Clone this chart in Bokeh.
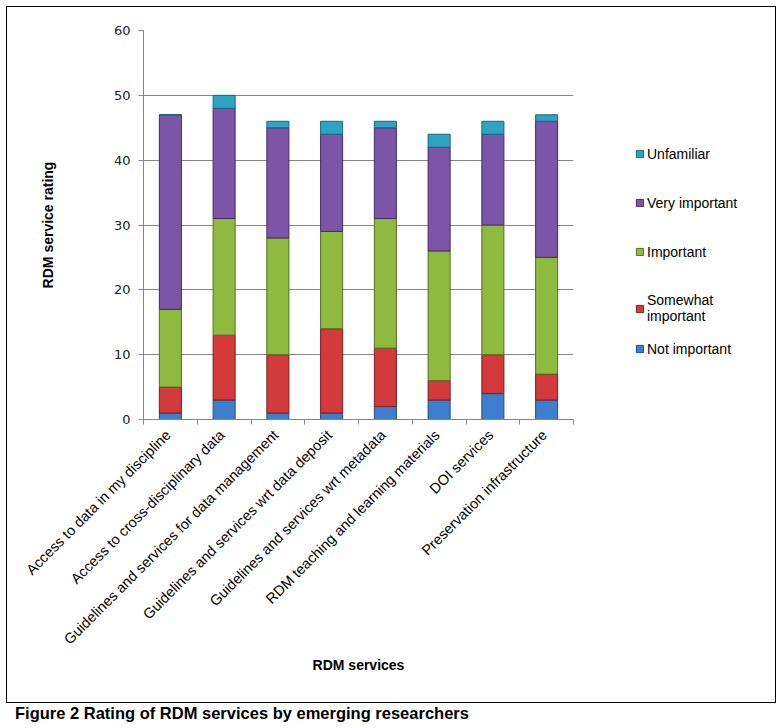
import numpy as np
from bokeh.plotting import figure
from bokeh.models import (ColumnDataSource, Legend, LegendItem, FixedTicker, Div)
from bokeh.layouts import column, row
from bokeh.embed import file_html
from bokeh.resources import INLINE

services = [
    "Access to data in my discipline",
    "Access to cross-disciplinary data",
    "Guidelines and services for data management",
    "Guidelines and services wrt data deposit",
    "Guidelines and services wrt metadata",
    "RDM teaching and learning materials",
    "DOI services",
    "Preservation infrastructure",
]
not_important = [1, 3, 1, 1, 2, 3, 4, 3]
somewhat_important = [4, 10, 9, 13, 9, 3, 6, 4]
important = [12, 18, 18, 15, 20, 20, 20, 18]
very_important = [30, 17, 17, 15, 14, 16, 14, 21]
unfamiliar = [0, 2, 1, 2, 1, 2, 2, 1]

series_keys = ["not_important", "somewhat_important", "important", "very_important", "unfamiliar"]
series_labels = ["Not important", "Somewhat\nimportant", "Important", "Very important", "Unfamiliar"]
colors = ["#3D7FCC", "#D23A3C", "#8DBA3F", "#7C55A8", "#2EA3C2"]
edges = ["#1F4E86", "#7E1E20", "#52701F", "#452C66", "#17697F"]
y_ticks = [0, 10, 20, 30, 40, 50, 60]

xpos = list(np.arange(len(services)) + 0.5)
source = ColumnDataSource(dict(
    x=xpos,
    not_important=not_important,
    somewhat_important=somewhat_important,
    important=important,
    very_important=very_important,
    unfamiliar=unfamiliar,
))

p = figure(width=580, height=695, output_backend="svg", toolbar_location=None,
           x_range=(0, len(services)), y_range=(0, 60),
           min_border_left=136, min_border_right=14, min_border_top=23, min_border_bottom=283)
p.outline_line_color = None

p.vbar_stack(series_keys, x="x", width=0.41, source=source,
             fill_color=colors, line_color=edges, line_width=1)

# axes
p.yaxis.ticker = FixedTicker(ticks=y_ticks)
p.yaxis.minor_tick_line_color = None
p.yaxis.major_tick_out = 5
p.yaxis.major_tick_in = 0
p.yaxis.axis_line_color = "#868686"
p.yaxis.major_tick_line_color = "#868686"
p.yaxis.major_label_text_font = "DejaVu Sans"
p.yaxis.major_label_text_font_size = "13px"
p.yaxis.major_label_text_color = "#222222"
p.yaxis.major_label_standoff = 8
p.yaxis.axis_label = "RDM service rating"
p.yaxis.axis_label_text_font = "Liberation Sans"
p.yaxis.axis_label_text_font_style = "bold"
p.yaxis.axis_label_text_font_size = "14px"
p.yaxis.axis_label_text_color = "#000000"
p.yaxis.axis_label_standoff = 55

label_ticks = [x - 0.04 for x in xpos]
p.xaxis.ticker = FixedTicker(ticks=label_ticks, minor_ticks=list(range(len(services) + 1)))
p.xaxis.major_label_overrides = {float(x): s for x, s in zip(label_ticks, services)}
p.xaxis.major_tick_line_color = None
p.xaxis.minor_tick_line_color = "#868686"
p.xaxis.minor_tick_out = 5
p.xaxis.minor_tick_in = 0
p.xaxis.axis_line_color = "#868686"
p.xaxis.major_label_orientation = np.pi / 4
p.xaxis.major_label_text_font = "Liberation Sans"
p.xaxis.major_label_text_font_size = "14.5px"
p.xaxis.major_label_text_color = "#000000"
p.xaxis.major_label_standoff = 7
p.xaxis.axis_label = "RDM services"
p.xaxis.axis_label_text_font = "Liberation Sans"
p.xaxis.axis_label_text_font_style = "bold"
p.xaxis.axis_label_text_font_size = "14px"
p.xaxis.axis_label_text_color = "#000000"
p.xaxis.axis_label_standoff = 1

p.xgrid.grid_line_color = None
p.ygrid.grid_line_color = "#868686"
p.ygrid.ticker = FixedTicker(ticks=y_ticks)

# legend panel (separate canvas to the right of the chart)
lf = figure(width=188, height=695, output_backend="svg", toolbar_location=None,
            x_axis_type=None, y_axis_type=None, x_range=(0, 1), y_range=(0, 1),
            min_border_left=48, min_border_top=23, min_border_right=0, min_border_bottom=283)
lf.outline_line_color = None
lf.grid.grid_line_color = None
lrs = lf.vbar_stack(series_keys, x="x", width=0.41, source=source,
                    fill_color=colors, line_color=edges, line_width=1)
for r in lrs:
    r.visible = False
items = [LegendItem(label=lab, renderers=[r]) for lab, r in zip(series_labels, lrs)]


def make_legend(its, loc):
    lg = Legend(items=its, location=loc)
    lg.glyph_width = 9
    lg.glyph_height = 9
    lg.label_text_font = "Liberation Sans"
    lg.label_text_font_size = "14px"
    lg.label_text_color = "#000000"
    lg.label_height = 17
    lg.label_standoff = 3
    lg.spacing = 32
    lg.padding = 0
    lg.margin = 0
    lg.border_line_color = None
    lg.background_fill_alpha = 0
    lg.click_policy = "none"
    return lg


lf.add_layout(make_legend(list(reversed(items[1:])), (0, 95)))
lf.add_layout(make_legend([items[0]], (0, 62)))

chart = row(p, lf, spacing=0, styles={"border": "1px solid #000"})

caption = Div(text="Figure 2 Rating of RDM services by emerging researchers",
              styles={"font-family": "Liberation Sans, Arial, sans-serif", "font-weight": "bold",
                      "font-size": "16.5px", "line-height": "10px", "color": "#000",
                      "padding-left": "4px"},
              width=760, height=20)

layout = column(chart, caption, spacing=0, margin=(6, 0, 0, 6))
open("out.html", "w").write(file_html(layout, INLINE))
